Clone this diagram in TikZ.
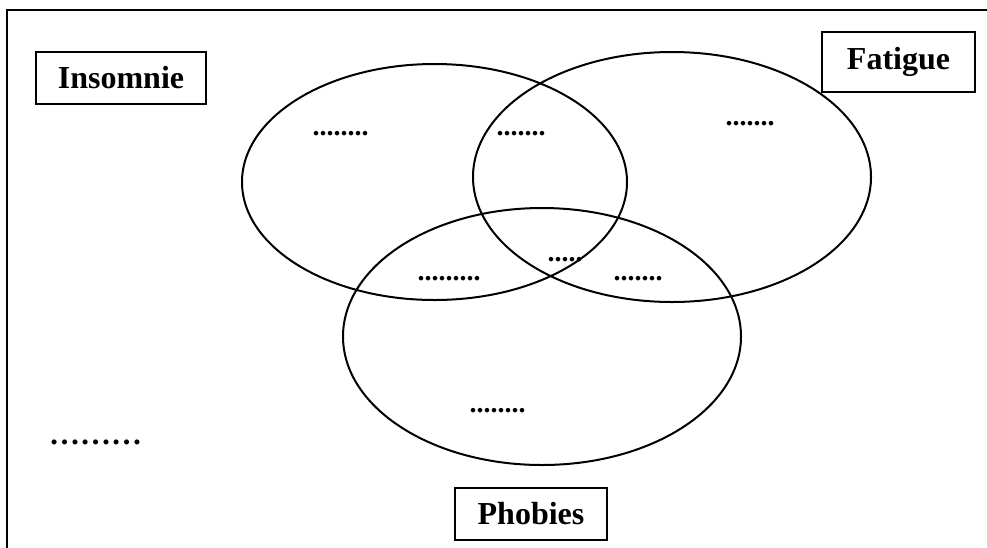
\documentclass[tikz,border=0pt]{standalone}
\usepackage{fontspec}
\setmainfont{Liberation Serif}
\begin{document}
\begin{tikzpicture}[x=1pt,y=-1pt,
  lbl/.style={draw,line width=1.8pt,font=\bfseries\fontsize{32}{36}\selectfont,inner sep=0pt},
  dts/.style={font=\bfseries\fontsize{28}{30}\selectfont,inner sep=0pt,anchor=base west},
  venn/.style={line width=2pt}]
\useasboundingbox (0,0) rectangle (987,547);
\draw[line width=2.6pt] (7,10) rectangle (995,555);
% ellipses
\draw[venn] (434.5,182) ellipse [x radius=192.5, y radius=118];
\draw[venn] (672,177) ellipse [x radius=199, y radius=125];
\draw[venn] (542,336.5) ellipse [x radius=199, y radius=128.5];
% labels
\node[lbl,minimum width=170pt,minimum height=52pt] (ins) at (121,78) {Insomnie};
\node[lbl,minimum width=153pt,minimum height=60pt] (fat) at (898.5,62) {Fatigue};
\node[lbl,minimum width=152pt,minimum height=52pt] (pho) at (531,514) {Phobies};
% dots
\node[dts] (d1) at (312.5,135) {........};
\node[dts] (d2) at (496.5,135) {.......};
\node[dts] (d3) at (725.5,125) {.......};
\node[dts] (d4) at (417.5,280) {.........};
\node[dts] (d5) at (547.5,261) {.....};
\node[dts] (d6) at (613.5,280) {.......};
\node[dts] (d7) at (469.5,412) {........};
\node[font=\bfseries\fontsize{31}{34}\selectfont,inner sep=0pt,anchor=base west] (d8) at (49,444.5) {………};
\end{tikzpicture}
\end{document}
